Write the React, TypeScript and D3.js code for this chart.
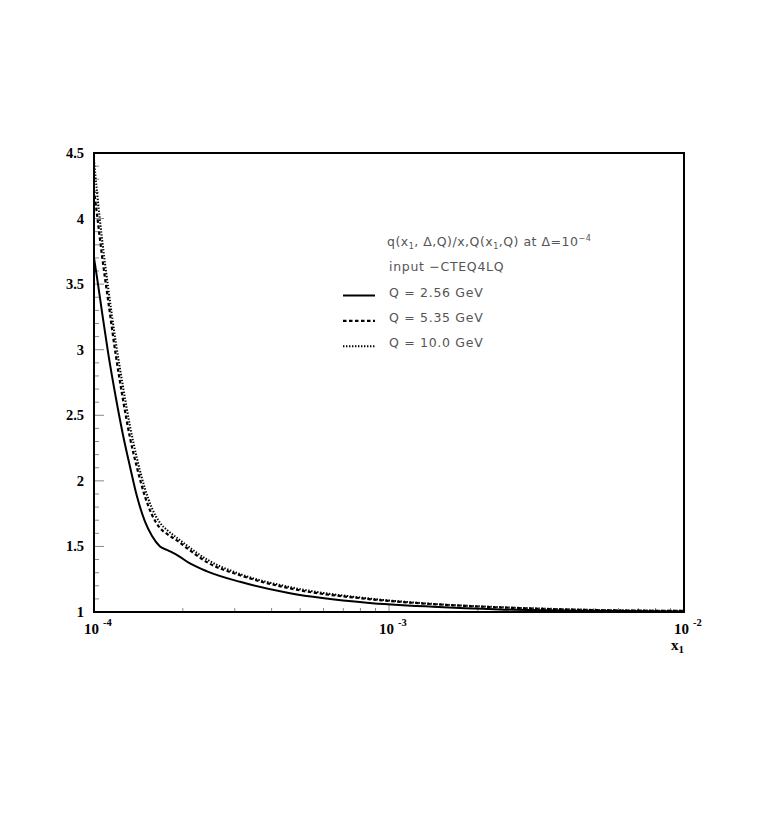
import * as d3 from "d3";

// x values (x1) shared by the three curves
const xVals = [
  1.0e-4, 1.024e-4, 1.064e-4, 1.116e-4, 1.187e-4, 1.254e-4, 1.324e-4, 1.399e-4,
  1.489e-4, 1.573e-4, 1.674e-4, 1.781e-4, 1.926e-4, 2.115e-4, 2.416e-4, 3.126e-4,
  4.617e-4, 8.42e-4, 1.41e-3, 2.38e-3, 4.8e-3, 1.0e-2,
];
// Q = 2.56 GeV
const q256 = [
  3.7, 3.55, 3.29, 2.98, 2.63, 2.35, 2.11, 1.88, 1.69, 1.58, 1.5, 1.47, 1.43, 1.37,
  1.31, 1.23, 1.143, 1.071, 1.04, 1.02, 1.009, 1.004,
];
// Q = 5.35 GeV
const q535 = [
  4.22, 4.03, 3.72, 3.38, 2.95, 2.62, 2.33, 2.1, 1.88, 1.74, 1.64, 1.59, 1.54, 1.47,
  1.38, 1.28, 1.18, 1.1, 1.06, 1.035, 1.015, 1.008,
];
// Q = 10.0 GeV
const q100 = [
  4.45, 4.2, 3.85, 3.48, 3.05, 2.72, 2.42, 2.17, 1.94, 1.79, 1.68, 1.62, 1.56, 1.49,
  1.4, 1.29, 1.19, 1.105, 1.062, 1.037, 1.017, 1.009,
];

const yTickLabels = ["1", "1.5", "2", "2.5", "3", "3.5", "4", "4.5"];
const xDecades = [-4, -3, -2];
const legendLabels = ["Q = 2.56 GeV", "Q = 5.35 GeV", "Q = 10.0 GeV"];

const W = 763;
const H = 817;
const left = 94;
const right = 684;
const top = 153;
const bottom = 612;

export default function App() {
  const x = d3.scaleLog().domain([1e-4, 1e-2]).range([left, right]);
  const y = d3.scaleLinear().domain([1, 4.5]).range([bottom, top]);

  const line = d3
    .line<number>()
    .x((_, i) => x(xVals[i]))
    .y((d) => y(d))
    .curve(d3.curveMonotoneX);

  const series = [
    { vals: q256, dash: undefined, w: 2 },
    { vals: q535, dash: "3.5 2.5", w: 2.2 },
    { vals: q100, dash: "1.4 1.6", w: 2 },
  ];

  const yMinor = d3.range(10, 46).map((v) => v / 10);
  const xMinor: number[] = [];
  [-4, -3].forEach((e) => {
    for (let k = 2; k <= 9; k++) xMinor.push(k * Math.pow(10, e));
  });

  const serif = "'Liberation Serif', 'DejaVu Serif', serif";
  const sans = "'DejaVu Sans', 'Liberation Sans', sans-serif";
  const legX = 389;
  const legY0 = 241.7;
  const legStep = 25.4;

  return (
    <svg
      width={W}
      height={H}
      viewBox={`0 0 ${W} ${H}`}
      style={{ position: "absolute", left: 0, top: 0, background: "#fff" }}
    >
      <rect x={0} y={0} width={W} height={H} fill="#fff" />

      {/* y ticks */}
      {yMinor.map((v, i) => {
        const major = Math.abs(v * 2 - Math.round(v * 2)) < 1e-6;
        return (
          <line
            key={"ym" + i}
            x1={left}
            x2={left + (major ? 10 : 5)}
            y1={y(v)}
            y2={y(v)}
            stroke="#888"
            strokeWidth={1}
          />
        );
      })}
      {/* x ticks */}
      {xMinor.map((v, i) => (
        <line
          key={"xm" + i}
          x1={x(v)}
          x2={x(v)}
          y1={bottom}
          y2={bottom - 4}
          stroke="#888"
          strokeWidth={1}
        />
      ))}
      <line x1={x(1e-3)} x2={x(1e-3)} y1={bottom} y2={bottom - 7} stroke="#888" strokeWidth={1} />

      {/* curves */}
      <g clipPath="url(#clip)">
        {series.map((s, i) => (
          <path
            key={i}
            d={line(s.vals) || ""}
            fill="none"
            stroke="#000"
            strokeWidth={s.w}
            strokeDasharray={s.dash}
          />
        ))}
      </g>
      <defs>
        <clipPath id="clip">
          <rect x={left} y={top} width={right - left} height={bottom - top} />
        </clipPath>
      </defs>

      {/* frame */}
      <rect
        x={left}
        y={top}
        width={right - left}
        height={bottom - top}
        fill="none"
        stroke="#000"
        strokeWidth={2}
      />

      {/* y labels */}
      {yTickLabels.map((t) => (
        <text
          key={t}
          x={84}
          y={y(+t) + 5}
          textAnchor="end"
          fontFamily={serif}
          fontWeight="bold"
          fontSize={14.5}
        >
          {t}
        </text>
      ))}

      {/* x labels */}
      {xDecades.map((e) => {
        const px = x(Math.pow(10, e));
        return (
          <g key={e} fontFamily={serif} fontWeight="bold">
            <text x={px + 5} y={634} textAnchor="end" fontSize={15}>
              10
            </text>
            <text x={px + 9} y={626} fontSize={10.5}>
              {"-" + Math.abs(e)}
            </text>
          </g>
        );
      })}
      <text x={671} y={650} fontFamily={serif} fontWeight="bold" fontSize={15}>
        x
        <tspan fontSize={11} dy={3}>
          1
        </tspan>
      </text>

      {/* legend */}
      <g fontFamily={sans} fontSize={12.5} fill="#555">
        <text x={legX - 2} y={legY0 + 4} letterSpacing={0.5}>
          q(x
          <tspan fontSize={8} dy={3}>1</tspan>
          <tspan dy={-3}>, Δ,Q)/x,Q(x</tspan>
          <tspan fontSize={8} dy={3}>1</tspan>
          <tspan dy={-3}>,Q) at Δ=10</tspan>
          <tspan fontSize={8} dy={-5}>−4</tspan>
        </text>
        <text x={legX} y={legY0 + legStep + 4} letterSpacing={0.7}>
          input −CTEQ4LQ
        </text>
        {legendLabels.map((t, i) => {
          const yy = legY0 + legStep * (i + 2);
          const s = series[i];
          return (
            <g key={t}>
              <line
                x1={343}
                x2={375}
                y1={yy + 3}
                y2={yy + 3}
                stroke="#000"
                strokeWidth={s.w}
                strokeDasharray={s.dash}
              />
              <text x={legX} y={yy + 4} letterSpacing={0.7}>
                {t}
              </text>
            </g>
          );
        })}
      </g>
    </svg>
  );
}
